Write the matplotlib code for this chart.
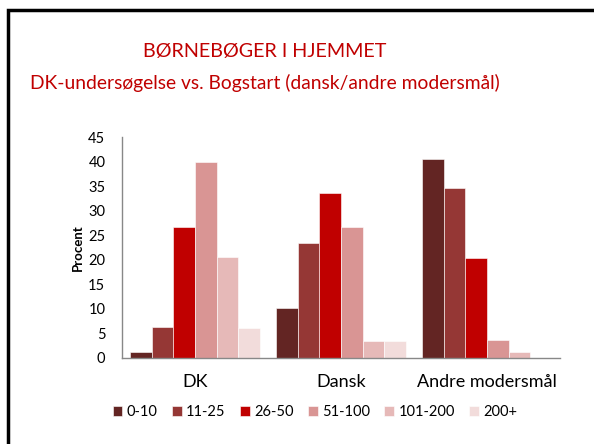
import numpy as np
import matplotlib
matplotlib.use('Agg')
import matplotlib.pyplot as plt
from matplotlib.patches import Rectangle

plt.rcParams['font.family'] = ['Lato', 'DejaVu Sans']

# data
groups = ['DK', 'Dansk', 'Andre modersmål']
bands = ['0-10', '11-25', '26-50', '51-100', '101-200', '200+']
values = {
    '0-10': [1.1, 10.1, 40.5],
    '11-25': [6.2, 23.4, 34.6],
    '26-50': [26.6, 33.5, 20.4],
    '51-100': [39.9, 26.7, 3.6],
    '101-200': [20.6, 3.4, 1.2],
    '200+': [6.0, 3.4, 0.0],
}
colors = ['#632523', '#953735', '#C00000', '#D99594', '#E6B9B8', '#F2DCDB']
title1 = 'BØRNEBØGER I HJEMMET'
title2 = 'DK-undersøgelse vs. Bogstart (dansk/andre modersmål)'

fig = plt.figure(figsize=(5.94, 4.44), dpi=100)
ax = fig.add_axes([0.2054, 0.1946, 0.7374, 0.4968])

# slide frame (only top and left edges visible)
fig.patches.append(Rectangle((0.0135, -0.1), 1.2, 1.0775, transform=fig.transFigure,
                             fill=False, edgecolor='black', linewidth=2.5))

x = np.arange(len(groups))
width = 1 / 6.75
for i, band in enumerate(bands):
    offset = (i - 2.5) * width
    ax.bar(x + offset, values[band], width, color=colors[i], label=band,
           edgecolor='white', linewidth=0.4)

ax.set_xlim(-0.5, 2.5)
ax.set_ylim(0, 45)
ax.set_yticks(np.arange(0, 46, 5))
ax.set_xticks(x)
ax.set_xticklabels(groups)
ax.tick_params(axis='y', length=0, labelsize=10.5, pad=12)
ax.tick_params(axis='x', length=0, labelsize=13, pad=12)
ax.set_ylabel('Procent', fontsize=9.5, fontweight='bold', labelpad=3)
for side in ['top', 'right']:
    ax.spines[side].set_visible(False)
for side in ['left', 'bottom']:
    ax.spines[side].set_color('#888888')
    ax.spines[side].set_linewidth(1)

fig.text(265 / 594, 1 - 51 / 444, title1, ha='center', va='center',
         fontsize=14.2, color='#C00000')
fig.text(265 / 594, 1 - 83 / 444, title2, ha='center', va='center',
         fontsize=13.9, color='#C00000')

fig.legend(loc='center', bbox_to_anchor=(315 / 594, 1 - 412 / 444), ncol=6,
           frameon=False, fontsize=10.5, handlelength=0.65, handleheight=0.65,
           handletextpad=0.3, columnspacing=1.0)

fig.savefig('out.png', dpi=100)
